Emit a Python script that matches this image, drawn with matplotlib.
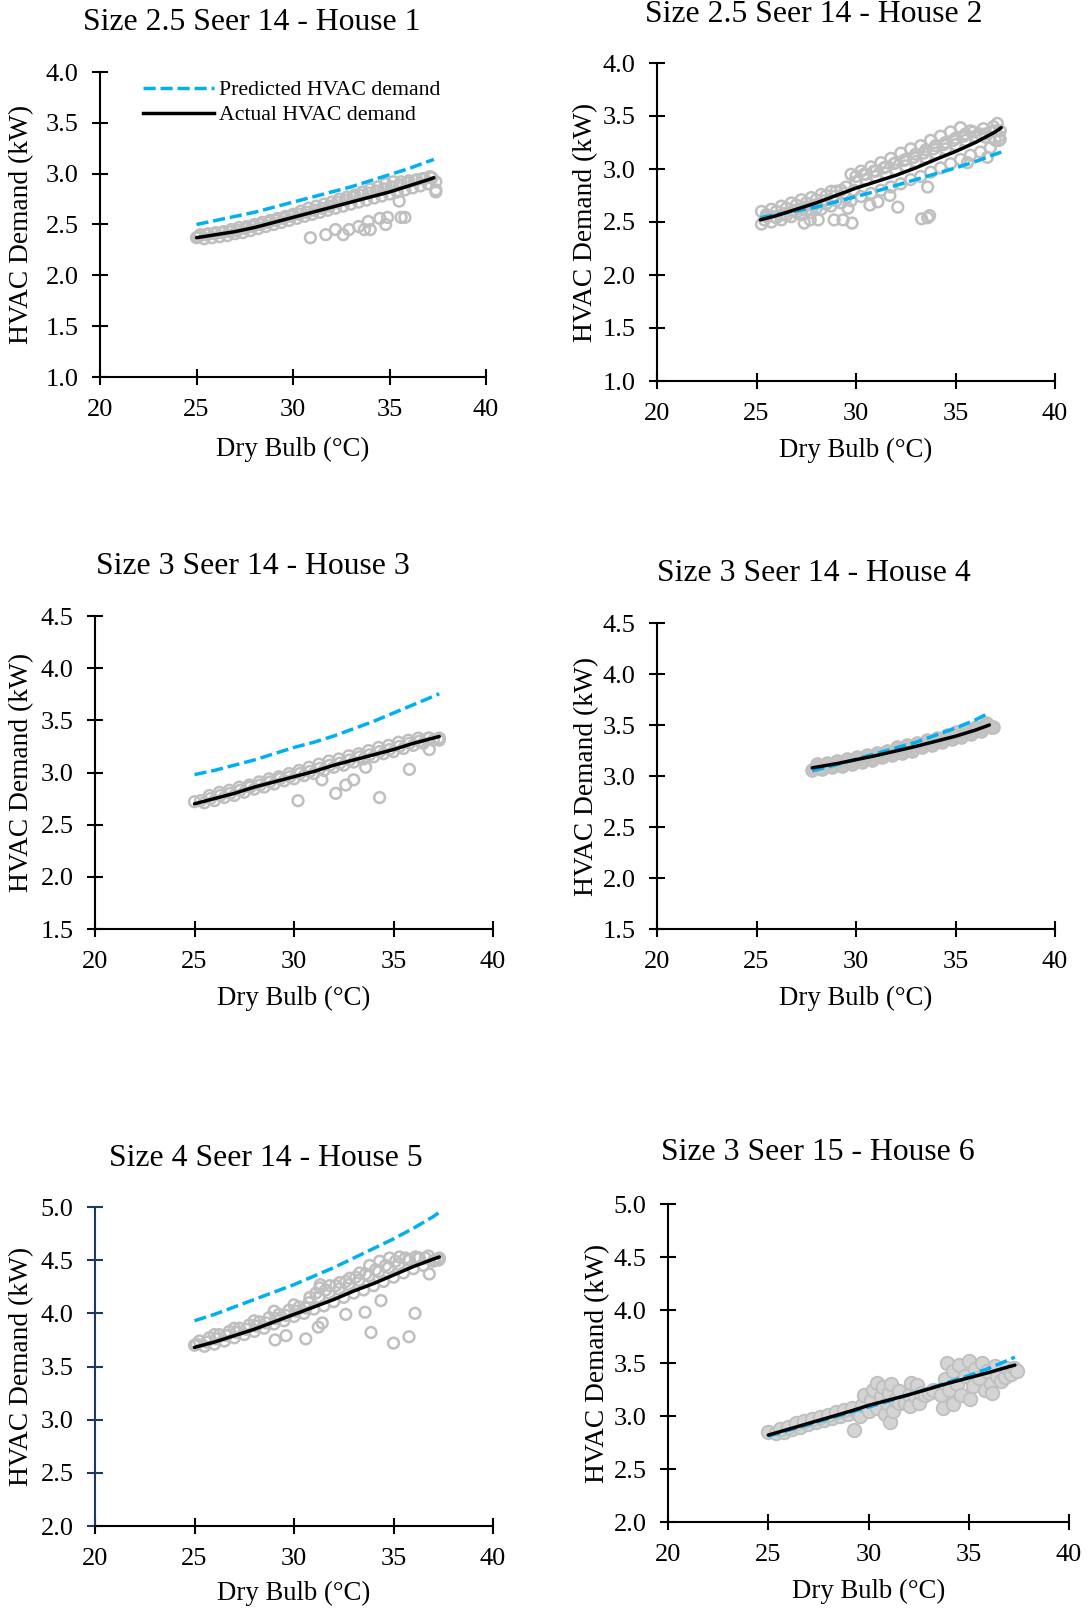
import matplotlib
matplotlib.use('Agg')
from matplotlib import pyplot as plt
from matplotlib.lines import Line2D

plt.rcParams['font.family'] = 'Liberation Serif'

W, H = 1091, 1610

BLUE = '#00B0F0'
GREY = '#BFBFBF'

titles = ['Size 2.5 Seer 14 - House 1', 'Size 2.5 Seer 14 - House 2',
          'Size 3 Seer 14 - House 3', 'Size 3 Seer 14 - House 4',
          'Size 4 Seer 14 - House 5', 'Size 3 Seer 15 - House 6']

# fitted curves (dry bulb in C, demand in kW)
fit_t = [25, 26, 27, 28, 29, 30, 31, 32, 33, 34, 35, 36, 37, 37.3]
fit_t2 = [25.2, 26, 27, 28, 29, 30, 31, 32, 33, 34, 35, 36, 37, 37.3]
fit_t4 = [27.8, 29, 30, 31, 32, 33, 34, 35, 36, 36.7]

act1 = [2.37, 2.40, 2.43, 2.47, 2.52, 2.57, 2.62, 2.67, 2.72, 2.77, 2.82, 2.88, 2.94, 2.96]
pred1 = [2.50, 2.54, 2.58, 2.62, 2.67, 2.72, 2.77, 2.82, 2.87, 2.93, 2.99, 3.05, 3.12, 3.14]
act2 = [2.52, 2.56, 2.62, 2.68, 2.75, 2.82, 2.88, 2.94, 3.01, 3.09, 3.165, 3.25, 3.35, 3.39]
pred2 = [2.54, 2.57, 2.605, 2.64, 2.69, 2.74, 2.79, 2.845, 2.90, 2.955, 3.01, 3.07, 3.14, 3.16]
act3 = [2.70, 2.75, 2.80, 2.86, 2.91, 2.96, 3.01, 3.07, 3.12, 3.17, 3.22, 3.28, 3.33, 3.345]
pred3 = [2.98, 3.02, 3.07, 3.12, 3.18, 3.24, 3.29, 3.35, 3.42, 3.49, 3.57, 3.65, 3.73, 3.755]
act4 = [3.08, 3.12, 3.16, 3.20, 3.245, 3.29, 3.34, 3.39, 3.45, 3.50]
pred4 = [3.05, 3.11, 3.165, 3.22, 3.275, 3.33, 3.40, 3.47, 3.55, 3.62]
act5 = [3.68, 3.73, 3.79, 3.85, 3.92, 3.99, 4.06, 4.13, 4.21, 4.28, 4.36, 4.44, 4.51, 4.53]
pred5 = [3.93, 3.99, 4.06, 4.13, 4.20, 4.27, 4.35, 4.43, 4.52, 4.61, 4.70, 4.80, 4.91, 4.95]
act6 = [2.82, 2.875, 2.93, 2.985, 3.04, 3.10, 3.15, 3.20, 3.255, 3.31, 3.36, 3.41, 3.465, 3.48]
pred6 = [2.81, 2.865, 2.92, 2.975, 3.03, 3.085, 3.14, 3.20, 3.26, 3.32, 3.38, 3.45, 3.53, 3.555]

# measured points
obs1_t = [25.0, 25.4, 25.8, 26.2, 26.6, 27.0, 27.4, 27.8, 28.2, 28.6, 29.0, 29.4, 29.8, 30.2, 30.6, 31.0,
          31.4, 31.8, 32.2, 32.6, 33.0, 33.4, 33.8, 34.2, 34.6, 35.0, 35.4, 35.8, 36.2, 36.6, 37.0, 37.4,
          25.2, 25.6, 26.0, 26.4, 26.8, 27.2, 27.6, 28.0, 28.4, 28.8, 29.2, 29.6, 30.0, 30.4, 30.8, 31.2,
          31.6, 32.0, 32.4, 32.8, 33.2, 33.6, 34.0, 34.4, 34.8, 35.2, 35.6, 36.0, 36.4, 36.8, 37.2, 37.4,
          25.1, 25.5, 25.9, 26.3, 26.7, 27.1, 27.5, 27.9, 28.3, 28.7, 29.1, 29.5, 29.9, 30.3, 30.7, 31.1,
          31.5, 31.9, 32.3, 32.7, 33.1, 33.5, 33.9, 34.3, 34.7, 35.1, 35.5, 35.9, 36.3, 36.7, 37.1,
          30.9, 31.7, 32.2, 32.6, 32.9, 33.4, 33.7, 33.9, 34.0, 34.5, 34.8, 34.9, 35.6, 35.8, 35.5, 37.4]
obs1_kw = [2.37, 2.36, 2.37, 2.38, 2.39, 2.41, 2.42, 2.44, 2.46, 2.48, 2.50, 2.52, 2.54, 2.56, 2.58, 2.60,
           2.62, 2.64, 2.66, 2.68, 2.70, 2.72, 2.74, 2.76, 2.78, 2.80, 2.82, 2.84, 2.86, 2.88, 2.90, 2.84,
           2.40, 2.41, 2.42, 2.43, 2.45, 2.47, 2.48, 2.50, 2.52, 2.54, 2.56, 2.58, 2.60, 2.63, 2.66, 2.68,
           2.70, 2.72, 2.75, 2.77, 2.79, 2.82, 2.85, 2.87, 2.90, 2.92, 2.92, 2.93, 2.94, 2.95, 2.96, 2.92,
           2.38, 2.40, 2.41, 2.42, 2.43, 2.44, 2.46, 2.48, 2.50, 2.52, 2.54, 2.56, 2.58, 2.60, 2.62, 2.64,
           2.66, 2.68, 2.72, 2.74, 2.77, 2.79, 2.81, 2.83, 2.85, 2.87, 2.89, 2.91, 2.93, 2.95, 2.97,
           2.37, 2.40, 2.45, 2.40, 2.45, 2.48, 2.45, 2.53, 2.45, 2.56, 2.50, 2.57, 2.57, 2.57, 2.73, 2.82]

obs2_t = [25.25, 25.75, 26.25, 26.75, 27.25, 27.75, 28.25, 28.75, 29.25, 29.75, 30.25, 30.75, 31.25,
          31.75, 32.25, 32.75, 33.25, 33.75, 34.25, 34.75, 35.25, 35.75, 36.25, 36.75, 37.25,
          25.5, 26.0, 26.5, 27.0, 27.5, 28.0, 28.5, 29.0, 29.5, 30.0, 30.5, 31.0, 31.5, 32.0, 32.5,
          33.0, 33.5, 34.0, 34.5, 35.0, 35.5, 36.0, 36.5, 37.0,
          25.25, 25.75, 26.25, 26.75, 27.25, 27.75, 28.25, 28.75, 29.25, 29.75, 30.25, 30.75, 31.25,
          31.75, 32.25, 32.75, 33.25, 33.75, 34.25, 34.75, 35.25, 35.75, 36.25, 36.75, 37.25,
          25.5, 26.0, 26.5, 27.0, 27.5, 28.0, 28.5, 29.0, 29.5, 30.0, 30.5, 31.0, 31.5, 32.0, 32.5,
          33.0, 33.5, 34.0, 34.5, 35.0, 35.5, 36.0, 36.5, 37.0,
          25.4, 25.9, 26.4, 26.9, 27.4, 27.9, 28.4, 28.9, 29.4, 29.9, 30.4, 30.9, 31.4, 31.9, 32.4,
          32.9, 33.4, 33.9, 34.4, 34.9, 35.4, 35.9, 36.4, 36.9,
          27.4, 27.7, 28.1, 28.9, 29.35, 29.8, 29.6, 30.7, 31.1, 31.7, 32.1, 33.3, 33.6, 33.7, 33.6,
          35.6, 36.6, 37.1, 37.2, 37.2]
obs2_kw = [2.48, 2.50, 2.52, 2.55, 2.57, 2.59, 2.62, 2.65, 2.68, 2.70, 2.74, 2.77, 2.80,
           2.83, 2.86, 2.90, 2.93, 2.97, 3.01, 3.05, 3.09, 3.13, 3.16, 3.20, 3.28,
           2.57, 2.60, 2.63, 2.66, 2.68, 2.71, 2.75, 2.79, 2.83, 2.88, 2.90, 2.93, 2.96, 2.99, 3.03,
           3.07, 3.11, 3.15, 3.19, 3.23, 3.27, 3.30, 3.33, 3.36,
           2.60, 2.62, 2.65, 2.68, 2.71, 2.73, 2.76, 2.79, 2.80, 2.95, 2.98, 3.02, 3.06,
           3.10, 3.15, 3.19, 3.22, 3.27, 3.31, 3.35, 3.39, 3.36, 3.33, 3.35, 3.36,
           2.55, 2.54, 2.56, 2.59, 2.61, 2.63, 2.67, 2.70, 2.73, 2.93, 2.95, 2.98, 3.02, 3.06, 3.09,
           3.14, 3.18, 3.22, 3.25, 3.29, 3.33, 3.31, 3.30, 3.27,
           2.52, 2.55, 2.58, 2.61, 2.64, 2.66, 2.70, 2.74, 2.77, 2.80, 2.95, 2.98, 3.01, 3.05, 3.08,
           3.11, 3.15, 3.19, 3.23, 3.27, 3.31, 3.35, 3.38, 3.40,
           2.49, 2.52, 2.52, 2.52, 2.52, 2.49, 2.63, 2.66, 2.69, 2.75, 2.64, 2.53, 2.54, 2.56, 2.83,
           3.06, 3.11, 3.43, 3.31, 3.27]

obs3_t = [25.0, 25.5, 26.0, 26.5, 27.0, 27.5, 28.0, 28.5, 29.0, 29.5, 30.0, 30.5, 31.0, 31.5, 32.0,
          32.5, 33.0, 33.5, 34.0, 34.5, 35.0, 35.5, 36.0, 36.5, 37.0,
          25.75, 26.25, 26.75, 27.25, 27.75, 28.25, 28.75, 29.25, 29.75, 30.25, 30.75, 31.25, 31.75,
          32.25, 32.75, 33.25, 33.75, 34.25, 34.75, 35.25, 35.75, 36.25, 36.75, 37.25,
          25.3, 25.8, 26.3, 26.8, 27.3, 27.8, 28.3, 28.8, 29.3, 29.8, 30.3, 30.8, 31.3, 31.8, 32.3,
          32.8, 33.3, 33.8, 34.3, 34.8, 35.3, 35.8, 36.3, 36.8, 37.3,
          30.2, 32.1, 32.6, 33.0, 34.3, 35.8, 33.6, 31.4, 37.3, 36.8]
obs3_kw = [2.72, 2.71, 2.73, 2.76, 2.78, 2.81, 2.84, 2.86, 2.89, 2.92, 2.94, 2.97, 2.99, 3.02, 3.05,
           3.07, 3.10, 3.13, 3.15, 3.18, 3.20, 3.23, 3.26, 3.28, 3.31,
           2.78, 2.81, 2.83, 2.86, 2.88, 2.91, 2.94, 2.96, 2.99, 3.02, 3.05, 3.08, 3.11,
           3.13, 3.16, 3.18, 3.21, 3.24, 3.26, 3.29, 3.31, 3.33, 3.33, 3.32,
           2.73, 2.75, 2.78, 2.80, 2.83, 2.86, 2.88, 2.91, 2.94, 2.96, 2.99, 3.01, 3.04, 3.07, 3.09,
           3.12, 3.15, 3.17, 3.20, 3.22, 3.25, 3.28, 3.30, 3.33, 3.33,
           2.73, 2.80, 2.88, 2.93, 2.76, 3.03, 3.05, 2.93, 3.31, 3.22]

obs4_t = [27.8, 28.3, 28.8, 29.3, 29.8, 30.3, 30.8, 31.3, 31.8, 32.3, 32.8, 33.3, 33.8, 34.3, 34.8,
          35.3, 35.8, 36.3, 36.8,
          28.05, 28.55, 29.05, 29.55, 30.05, 30.55, 31.05, 31.55, 32.05, 32.55, 33.05, 33.55, 34.05,
          34.55, 35.05, 35.55, 36.05, 36.55, 36.6, 36.9]
obs4_kw = [3.06, 3.07, 3.09, 3.10, 3.12, 3.14, 3.16, 3.19, 3.21, 3.23, 3.25, 3.28, 3.30, 3.33, 3.36,
           3.38, 3.41, 3.44, 3.48,
           3.12, 3.13, 3.15, 3.17, 3.19, 3.21, 3.23, 3.25, 3.28, 3.30, 3.32, 3.35, 3.37,
           3.40, 3.43, 3.45, 3.48, 3.52, 3.51, 3.48]

obs5_t = [25.0, 25.5, 26.0, 26.5, 27.0, 27.5, 28.0, 28.5, 29.0, 29.5, 30.0, 30.5, 31.0, 31.5, 32.0,
          32.5, 33.0, 33.5, 34.0, 34.5, 35.0, 35.5, 36.0, 36.5, 37.0, 37.3,
          25.25, 25.75, 26.25, 26.75, 27.25, 27.75, 28.25, 28.75, 29.25, 29.75, 30.25, 30.75, 31.25,
          31.75, 32.25, 32.75, 33.25, 33.75, 34.25, 34.75, 35.25, 35.75, 36.25, 36.75, 37.25,
          25.1, 25.6, 26.1, 26.6, 27.1, 27.6, 28.1, 28.6, 29.1, 29.6, 30.1, 30.6, 31.1, 31.6, 32.1,
          32.6, 33.1, 33.6, 34.1, 34.6, 35.1, 35.6, 36.1, 36.6, 37.1,
          26.0, 27.0, 28.0, 29.0, 30.0, 30.8, 31.3, 31.8, 32.3, 32.8, 33.3, 33.8, 34.3, 34.8, 35.3,
          35.8, 36.3,
          29.05, 29.6, 30.59, 31.22, 31.42, 31.32, 32.6, 33.57, 33.87, 34.37, 35.0, 35.78, 36.08,
          37.3, 36.8]
obs5_kw = [3.70, 3.69, 3.71, 3.74, 3.77, 3.80, 3.83, 3.86, 3.90, 3.93, 3.97, 4.00, 4.04, 4.07, 4.11,
           4.15, 4.19, 4.22, 4.26, 4.30, 4.34, 4.38, 4.42, 4.45, 4.49, 4.51,
           3.74, 3.77, 3.80, 3.83, 3.86, 3.89, 3.92, 3.96, 3.99, 4.03, 4.06, 4.10, 4.15,
           4.19, 4.23, 4.27, 4.31, 4.35, 4.39, 4.43, 4.46, 4.50, 4.52, 4.54, 4.50,
           3.71, 3.73, 3.76, 3.79, 3.82, 3.85, 3.88, 3.91, 3.95, 3.98, 4.02, 4.05, 4.19, 4.22, 4.26,
           4.30, 4.34, 4.37, 4.41, 4.45, 4.49, 4.52, 4.53, 4.52, 4.50,
           3.80, 3.86, 3.93, 4.02, 4.08, 4.15, 4.24, 4.26, 4.29, 4.33, 4.38, 4.45, 4.49, 4.52, 4.53,
           4.50, 4.52,
           3.75, 3.79, 3.76, 3.87, 3.91, 4.27, 3.99, 4.01, 3.82, 4.12, 3.72, 3.78, 4.00,
           4.52, 4.37]

obs6_t = [25.0, 25.4, 25.8, 26.2, 26.6, 27.0, 27.4, 27.8, 28.2, 28.6, 29.0, 29.4,
          25.6, 26.0, 26.4, 26.8, 27.2, 27.6, 28.0, 28.4, 28.8, 29.2,
          29.3, 29.6, 29.7, 29.8, 30.0, 30.1, 30.2, 30.4, 30.4, 30.6, 30.7, 30.8, 30.9, 31.0, 31.05,
          31.1, 31.2, 31.3, 31.5, 31.5,
          31.8, 32.0, 32.1, 32.05, 32.3, 32.4, 32.5, 32.6, 32.8, 33.0, 33.2,
          33.6, 33.7, 33.8, 33.9, 34.0, 34.2, 34.2, 34.4, 34.5, 34.6, 34.8, 35.0, 35.05, 35.2, 35.3,
          35.5, 35.65, 35.8, 35.9, 36.1, 36.15, 36.3, 36.4, 36.6, 36.8, 36.9, 37.1, 37.25, 37.4]
obs6_kw = [2.85, 2.84, 2.85, 2.88, 2.90, 2.92, 2.94, 2.96, 2.98, 3.00, 3.02, 3.05,
           2.88, 2.90, 2.93, 2.95, 2.97, 2.99, 3.01, 3.04, 3.06, 3.08,
           2.87, 3.00, 3.10, 3.20, 3.05, 3.15, 3.25, 3.31, 3.08, 3.18, 3.27, 3.02, 3.12, 3.22, 2.94,
           3.30, 3.05, 3.15, 3.12, 3.24,
           3.12, 3.20, 3.31, 3.09, 3.19, 3.29, 3.12, 3.22, 3.20, 3.22, 3.25,
           3.20, 3.08, 3.35, 3.50, 3.25, 3.11, 3.42, 3.30, 3.48, 3.20, 3.38, 3.52, 3.16, 3.28, 3.44,
           3.36, 3.50, 3.25, 3.42, 3.30, 3.22, 3.47, 3.38, 3.33, 3.37, 3.45, 3.40, 3.45, 3.42]

# axes boxes in pixels: left, right, top, bottom
boxes = [(100, 486, 72, 377), (657, 1055, 63, 381),
         (95, 493, 616, 929), (657, 1055, 623, 929),
         (95, 493, 1207, 1526), (668, 1069, 1204, 1522)]
ylims = [(1.0, 4.0), (1.0, 4.0), (1.5, 4.5), (1.5, 4.5), (2.0, 5.0), (2.0, 5.0)]
title_xy = [(252, 23), (814, 15), (253, 567), (814, 573), (266, 1158), (818, 1152)]
ylabel_x = [22, 586, 22, 587, 22, 598]
xlabel_y = [449, 450, 998, 998, 1593, 1591]

panels = [
    (obs1_t, obs1_kw, fit_t, act1, pred1),
    (obs2_t, obs2_kw, fit_t2, act2, pred2),
    (obs3_t, obs3_kw, fit_t, act3, pred3),
    (obs4_t, obs4_kw, fit_t4, act4, pred4),
    (obs5_t, obs5_kw, fit_t, act5, pred5),
    (obs6_t, obs6_kw, fit_t, act6, pred6),
]

fig = plt.figure(figsize=(W / 100, H / 100), dpi=100)

for i, (ot, okw, ft, act, pred) in enumerate(panels):
    l, r, t, b = boxes[i]
    ax = fig.add_axes([l / W, 1 - b / H, (r - l) / W, (b - t) / H])

    if i == 5:
        ax.scatter(ot, okw, s=95, facecolors='#D4D4D4', edgecolors=GREY, linewidths=1.3, zorder=2)
    elif i == 3:
        ax.scatter(ot, okw, s=85, facecolors='#C4C4C4', edgecolors=GREY, linewidths=1.3, zorder=2)
    else:
        ax.scatter(ot, okw, s=60, facecolors='none', edgecolors=GREY, linewidths=1.8, zorder=2)

    ax.plot(ft, pred, color=BLUE, lw=2.5, dashes=(3.5, 1.4), zorder=3)
    ax.plot(ft, act, color='black', lw=2.5, solid_capstyle='round', zorder=4)

    ax.set_xlim(20, 40)
    ax.set_ylim(*ylims[i])
    ax.set_xticks([20, 25, 30, 35, 40])
    y0, y1 = ylims[i]
    yt = [y0 + 0.5 * k for k in range(int(round((y1 - y0) / 0.5)) + 1)]
    ax.set_yticks(yt)
    ax.set_yticklabels(['%.1f' % v for v in yt])

    for side in ['top', 'right']:
        ax.spines[side].set_visible(False)
    for side in ['left', 'bottom']:
        ax.spines[side].set_linewidth(1.5)

    ax.tick_params(axis='both', direction='inout', length=11, width=1.5, labelsize=19)
    ax.tick_params(axis='x', pad=10)
    ax.tick_params(axis='y', pad=10)

    if i == 4:
        ax.spines['left'].set_color('#1F3864')
        ax.tick_params(axis='y', color='#1F3864')

    cx = (l + r) / 2
    fig.text(title_xy[i][0] / W, 1 - title_xy[i][1] / H, titles[i],
             ha='center', va='center', fontsize=22.9)
    fig.text(ylabel_x[i] / W, 1 - (t + b) / 2 / H, 'HVAC Demand (kW)',
             rotation=90, ha='center', va='center', fontsize=19.7)
    fig.text(cx / W, 1 - xlabel_y[i] / H, 'Dry Bulb (°C)',
             ha='center', va='center', fontsize=19.3)

    if i == 0:
        handles = [Line2D([], [], color=BLUE, lw=2.5, dashes=(3.5, 1.4)),
                   Line2D([], [], color='black', lw=2.5)]
        ax.legend(handles, ['Predicted HVAC demand', 'Actual HVAC demand'],
                  loc='upper left', bbox_to_anchor=(143 / W, 1 - 80 / H),
                  bbox_transform=fig.transFigure, frameon=False, fontsize=15.7,
                  handlelength=3.25, handletextpad=0.25, labelspacing=0.22,
                  borderpad=0, borderaxespad=0)

fig.savefig('out.png', dpi=100)
